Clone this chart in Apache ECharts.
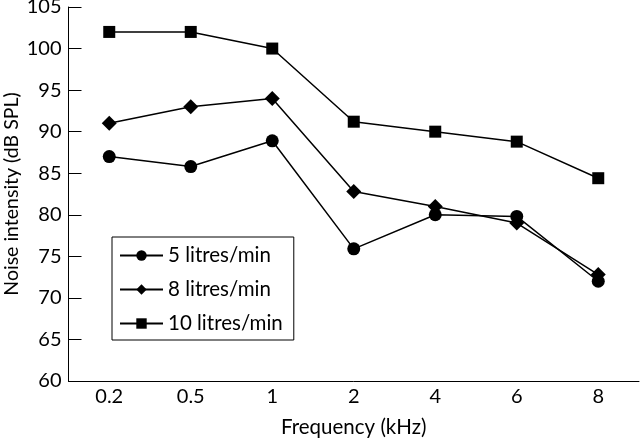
<!DOCTYPE html>
<html>
<head>
<meta charset="utf-8">
<script src="https://cdn.jsdelivr.net/npm/echarts@6/dist/echarts.min.js"></script>
<style>html,body{margin:0;padding:0;background:#fff}#c{width:640px;height:439px}</style>
</head>
<body>
<div id="c"></div>
<script>
var categories = ['0.2', '0.5', '1', '2', '4', '6', '8'];
var s5 = [87, 85.8, 88.9, 75.9, 80, 79.8, 72];
var s8 = [91, 93, 94, 82.8, 81, 79, 72.8];
var s10 = [102, 102, 100, 91.2, 90, 88.8, 84.4];
var seriesNames = ['5 litres/min', '8 litres/min', '10 litres/min'];
var yMin = 60, yMax = 105, yStep = 5;

var FONT = 'Lato';
var chart = echarts.init(document.getElementById('c'), null, {renderer: 'canvas'});
function mk(name, data, symbol, size) {
  return {
    name: name, type: 'line', data: data, symbol: symbol, symbolSize: size,
    lineStyle: {color: '#000', width: 1.5},
    itemStyle: {color: '#000'},
    animation: false
  };
}
chart.setOption({
  animation: false,
  textStyle: {fontFamily: FONT, color: '#000'},
  grid: {left: 68.5, right: 1, top: 7, bottom: 58, containLabel: false, outerBoundsMode: 'none'},
  legend: {
    orient: 'vertical', left: 112, top: 237,
    data: seriesNames,
    borderColor: '#000', borderWidth: 1, backgroundColor: '#fff',
    padding: [8, 11, 6, 7],
    itemWidth: 43, itemHeight: 13, itemGap: 13,
    textStyle: {fontFamily: FONT, fontSize: 20.5, color: '#000'},
    selectedMode: false
  },
  xAxis: {
    type: 'category', data: categories, boundaryGap: true,
    name: 'Frequency (kHz)', nameLocation: 'middle', nameGap: 36, nameMoveOverlap: false,
    nameTextStyle: {fontFamily: FONT, fontSize: 20.5, color: '#000'},
    axisLine: {lineStyle: {color: '#000', width: 1}},
    axisTick: {inside: true, length: 15, lineStyle: {color: '#000'}},
    axisLabel: {fontFamily: FONT, fontSize: 20, color: '#000', margin: 6},
    splitLine: {show: false}
  },
  yAxis: {
    type: 'value', min: yMin, max: yMax, interval: yStep,
    name: 'Noise intensity (dB SPL)', nameLocation: 'middle', nameGap: 47, nameMoveOverlap: false,
    nameTextStyle: {fontFamily: FONT, fontSize: 19.5, color: '#000'},
    axisLine: {show: true, lineStyle: {color: '#000', width: 1}},
    axisTick: {show: true, inside: true, length: 13, lineStyle: {color: '#000'}},
    axisLabel: {fontFamily: FONT, fontSize: 20, color: '#000', margin: 7},
    splitLine: {show: false}
  },
  series: [
    mk(seriesNames[0], s5, 'circle', 13),
    mk(seriesNames[1], s8, 'diamond', 15),
    mk(seriesNames[2], s10, 'rect', 12)
  ]
});
</script>
</body>
</html>
